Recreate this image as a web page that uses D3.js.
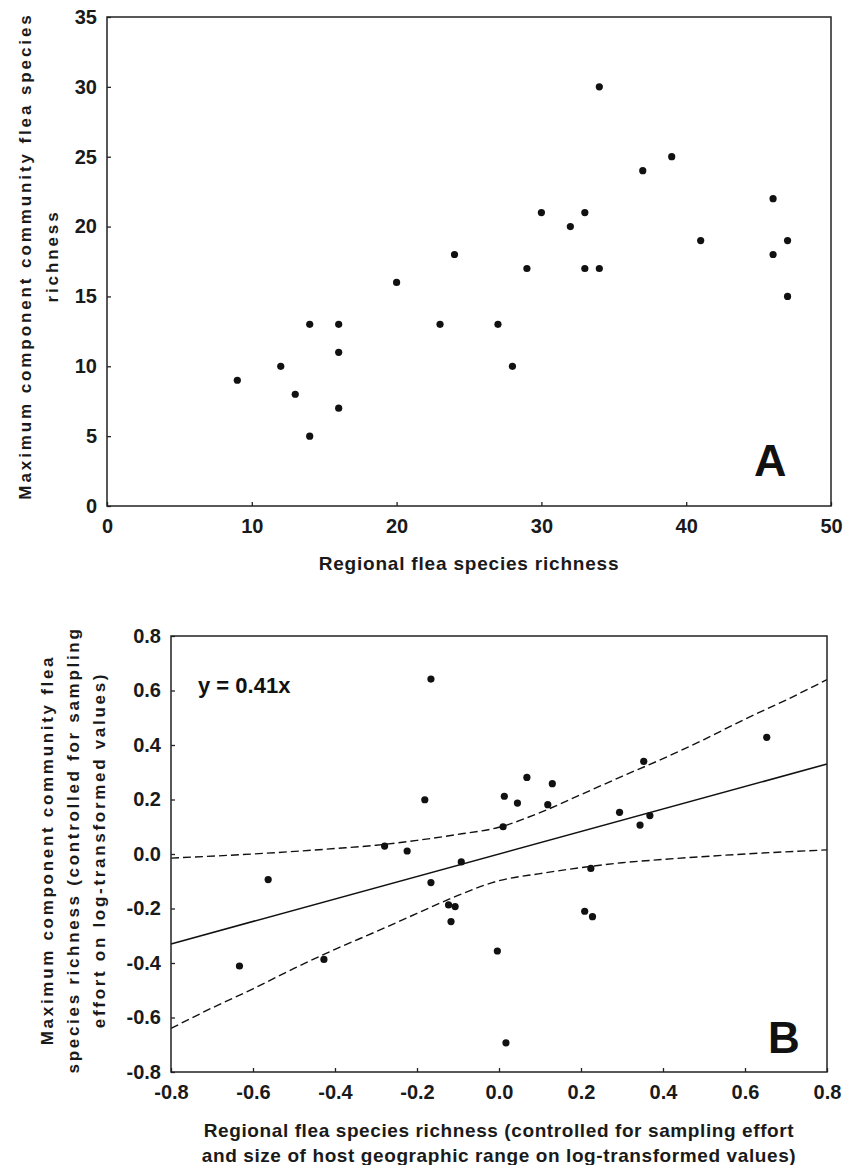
<!DOCTYPE html>
<html>
<head>
<meta charset="utf-8">
<script src="https://cdn.jsdelivr.net/npm/d3@7"></script>
<style>
  body { margin: 0; background: #fff; }
  svg { display: block; font-family: "Liberation Sans", Arial, sans-serif; font-weight: bold; }
  .tick text { font-size: 20px; font-weight: bold; fill: #1a1a1a; font-family: "Liberation Sans", Arial, sans-serif; }
  .tick line { stroke: #222; stroke-width: 1.3; }
</style>
</head>
<body>
<svg id="chart"></svg>
<script>
// Panel A: regional vs max component community richness
const richRegional = [9, 12, 13, 14, 14, 16, 16, 16, 20, 23, 24, 27, 28, 29, 30, 32, 33, 33, 34, 34, 37, 39, 41, 46, 46, 47, 47];
const richComponent = [9, 10, 8, 5, 13, 13, 11, 7, 16, 13, 18, 13, 10, 17, 21, 20, 21, 17, 17, 30, 24, 25, 19, 22, 18, 19, 15];
const ticksAX = [0, 10, 20, 30, 40, 50];
const ticksAY = [0, 5, 10, 15, 20, 25, 30, 35];

// Panel B: residuals
const residX = [-0.633, -0.563, -0.427, -0.279, -0.224, -0.181, -0.166, -0.166, -0.123, -0.107, -0.117, -0.092,
                -0.004, 0.013, 0.010, 0.045, 0.068, 0.119, 0.130, 0.209, 0.224, 0.228, 0.294, 0.353, 0.344, 0.368, 0.653, 0.017];
const residY = [-0.411, -0.094, -0.387, 0.029, 0.011, 0.199, 0.642, -0.105, -0.187, -0.193, -0.248, -0.029,
                -0.356, 0.212, 0.100, 0.187, 0.281, 0.181, 0.258, -0.210, -0.053, -0.230, 0.153, 0.340, 0.106, 0.141, 0.428, -0.693];
const fitLine = [[-0.8, -0.33], [0.8, 0.33]];
const bandUpper = [[-0.8, -0.015], [-0.6, 0.0], [-0.4, 0.02], [-0.3, 0.032], [-0.2, 0.05], [-0.1, 0.072], [0.0, 0.098],
                   [0.1, 0.152], [0.2, 0.218], [0.3, 0.285], [0.4, 0.35], [0.5, 0.42], [0.6, 0.495], [0.7, 0.565], [0.8, 0.64]];
const bandLower = [[-0.8, -0.64], [-0.7, -0.565], [-0.6, -0.495], [-0.5, -0.42], [-0.4, -0.35], [-0.3, -0.285], [-0.2, -0.218],
                   [-0.1, -0.152], [0.0, -0.098], [0.1, -0.072], [0.2, -0.05], [0.3, -0.032], [0.4, -0.02], [0.6, 0.0], [0.8, 0.015]];
const ticksB = [-0.8, -0.6, -0.4, -0.2, 0.0, 0.2, 0.4, 0.6, 0.8];

const width = 856, height = 1165;
const svg = d3.select("#chart").attr("width", width).attr("height", height);

function frame(g, x0, y0, x1, y1) {
    g.append("rect")
        .attr("x", x0).attr("y", y0)
        .attr("width", x1 - x0).attr("height", y1 - y0)
        .attr("fill", "none")
        .attr("stroke", "#222")
        .attr("stroke-width", 1.5);
}

function drawAxes(g, x, y, xt, yt, fmt) {
    const bottom = y.range()[0];
    const left = x.range()[0];
    g.append("g")
        .attr("transform", `translate(0,${bottom})`)
        .call(d3.axisBottom(x).tickValues(xt).tickFormat(fmt).tickSizeInner(-4).tickSizeOuter(0).tickPadding(13))
        .call(a => a.select(".domain").remove());
    g.append("g")
        .attr("transform", `translate(${left},0)`)
        .call(d3.axisLeft(y).tickValues(yt).tickFormat(fmt).tickSizeInner(-4).tickSizeOuter(0).tickPadding(10))
        .call(a => a.select(".domain").remove());
}

// ---------- Panel A ----------
const xA = d3.scaleLinear().domain([0, 50]).range([107, 831]);
const yA = d3.scaleLinear().domain([0, 35]).range([506, 17]);
const gA = svg.append("g");
drawAxes(gA, xA, yA, ticksAX, ticksAY, d => d);
frame(gA, 107, 17, 831, 506);

gA.selectAll("circle")
    .data(d3.range(richRegional.length))
    .join("circle")
    .attr("cx", i => xA(richRegional[i]))
    .attr("cy", i => yA(richComponent[i]))
    .attr("r", 3.6)
    .attr("fill", "#111");

gA.append("text")
    .attr("x", 469).attr("y", 570)
    .attr("text-anchor", "middle")
    .style("font-size", "19px").style("letter-spacing", "0.8px")
    .attr("fill", "#1a1a1a")
    .text("Regional flea species richness");

const titleA = ["Maximum component community flea species", "richness"];
titleA.forEach((t, i) => {
    gA.append("text")
        .attr("transform", `translate(${31 + i * 27},256) rotate(-90)`)
        .attr("text-anchor", "middle")
        .style("font-size", "17px").style("letter-spacing", "2.9px")
        .attr("fill", "#1a1a1a")
        .text(t);
});

gA.append("text")
    .attr("x", 754).attr("y", 476)
    .style("font-size", "45px")
    .attr("fill", "#111")
    .text("A");

// ---------- Panel B ----------
const xB = d3.scaleLinear().domain([-0.8, 0.8]).range([171, 827]);
const yB = d3.scaleLinear().domain([-0.8, 0.8]).range([1072, 636]);
const gB = svg.append("g");
const fmtB = d => Math.abs(d) < 1e-9 ? "0.0" : d.toFixed(1);
drawAxes(gB, xB, yB, ticksB, ticksB, fmtB);

const line = d3.line().x(d => xB(d[0])).y(d => yB(d[1])).curve(d3.curveMonotoneX);

gB.append("path")
    .datum(fitLine)
    .attr("d", line)
    .attr("fill", "none")
    .attr("stroke", "#111")
    .attr("stroke-width", 1.5);

[bandUpper, bandLower].forEach(b => {
    gB.append("path")
        .datum(b)
        .attr("d", line)
        .attr("fill", "none")
        .attr("stroke", "#111")
        .attr("stroke-width", 1.4)
        .attr("stroke-dasharray", "8,4");
});

frame(gB, 171, 636, 827, 1072);

gB.selectAll("circle")
    .data(d3.range(residX.length))
    .join("circle")
    .attr("cx", i => xB(residX[i]))
    .attr("cy", i => yB(residY[i]))
    .attr("r", 3.6)
    .attr("fill", "#111");

gB.append("text")
    .attr("x", 198).attr("y", 693)
    .style("font-size", "22px")
    .attr("fill", "#111")
    .text("y = 0.41x");

gB.append("text")
    .attr("x", 768).attr("y", 1053)
    .style("font-size", "44px")
    .attr("fill", "#111")
    .text("B");

const titleBX = ["Regional flea species richness (controlled for sampling effort",
                 "and size of host geographic range on log-transformed values)"];
titleBX.forEach((t, i) => {
    gB.append("text")
        .attr("x", 499).attr("y", 1137 + i * 25)
        .attr("text-anchor", "middle")
        .style("font-size", "19px").style("letter-spacing", "0.6px")
        .attr("fill", "#1a1a1a")
        .text(t);
});

const titleBY = ["Maximum component community flea",
                 "species richness (controlled for sampling",
                 "effort on log-transformed values)"];
titleBY.forEach((t, i) => {
    gB.append("text")
        .attr("transform", `translate(${53 + i * 26},850) rotate(-90)`)
        .attr("text-anchor", "middle")
        .style("font-size", "17px").style("letter-spacing", "2.7px")
        .attr("fill", "#1a1a1a")
        .text(t);
});
</script>
</body>
</html>
